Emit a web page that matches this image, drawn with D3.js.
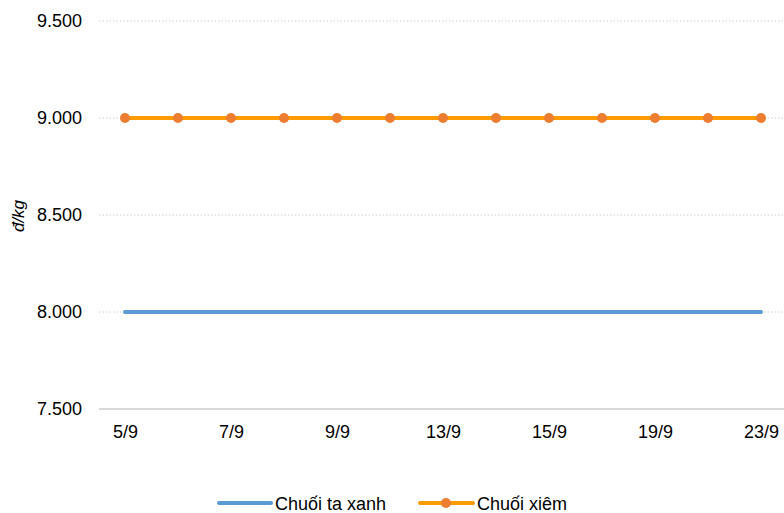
<!DOCTYPE html>
<html><head><meta charset="utf-8">
<script src="https://cdn.jsdelivr.net/npm/d3@7"></script>
<style>body{margin:0;background:#fff;font-family:"Liberation Sans",Arial,sans-serif;}</style>
</head><body><svg id="c" width="784" height="513"></svg>
<script>
const dates = ["5/9","6/9","7/9","8/9","9/9","12/9","13/9","14/9","15/9","16/9","19/9","21/9","23/9"];
const chuoiTaXanh = [8000,8000,8000,8000,8000,8000,8000,8000,8000,8000,8000,8000,8000];
const chuoiXiem = [9000,9000,9000,9000,9000,9000,9000,9000,9000,9000,9000,9000,9000];
const yTicks = [7500,8000,8500,9000,9500];
const seriesNames = ["Chuối ta xanh","Chuối xiêm"];

const svg = d3.select("#c");
const x = d3.scalePoint().domain(dates).range([98.5,787.5]).padding(0.5);
const y = d3.scaleLinear().domain([7500,9500]).range([409,21]);
const fmt = v => d3.format(",")(v).replace(/,/g,".");

// grid
svg.append("g").selectAll("line").data(yTicks.filter(d=>d>7500)).join("line")
  .attr("x1",99).attr("x2",784).attr("y1",d=>y(d)).attr("y2",d=>y(d))
  .attr("stroke","#d0d0d0").attr("stroke-width",1).attr("stroke-dasharray","1.5,2");
// y axis labels
const ya = svg.append("g").attr("transform","translate(82,0)")
  .call(d3.axisLeft(y).tickValues(yTicks).tickFormat(fmt).tickSize(0).tickPadding(0));
ya.attr("font-size",18).attr("font-family","Liberation Sans, Arial, sans-serif");
ya.select(".domain").remove();
ya.selectAll("text").attr("fill","#000");
// x axis
const xa = svg.append("g").attr("transform","translate(0,409)")
  .call(d3.axisBottom(x).tickSize(0).tickPadding(16).tickFormat((d,i)=> i%2===0 ? d : ""));
xa.attr("font-size",18).attr("font-family","Liberation Sans, Arial, sans-serif");
xa.select(".domain").attr("d","M99,0H784").attr("stroke","#d9d9d9").attr("stroke-width",2);
xa.selectAll("text").attr("fill","#000");

// y title
svg.append("text").attr("transform","translate(24,216) rotate(-90)").attr("text-anchor","middle")
  .attr("font-size",17).attr("font-style","italic").text("đ/kg");

const line = d3.line().x((d,i)=>x(dates[i])).y(d=>y(d));
svg.append("path").datum(chuoiTaXanh).attr("d",line).attr("fill","none")
  .attr("stroke","#5b9bd5").attr("stroke-width",4).attr("stroke-linecap","round");
svg.append("path").datum(chuoiXiem).attr("d",line).attr("fill","none")
  .attr("stroke","#ff9a00").attr("stroke-width",4).attr("stroke-linecap","round");
svg.append("g").selectAll("circle").data(chuoiXiem).join("circle")
  .attr("cx",(d,i)=>x(dates[i])).attr("cy",d=>y(d)).attr("r",5).attr("fill","#ed7d31");

// legend
const lg = svg.append("g").attr("font-size",18);
lg.append("line").attr("x1",219).attr("x2",271).attr("y1",503).attr("y2",503)
  .attr("stroke","#5b9bd5").attr("stroke-width",4).attr("stroke-linecap","round");
lg.append("text").attr("x",275).attr("y",510).text(seriesNames[0]);
lg.append("line").attr("x1",420).attr("x2",473).attr("y1",503).attr("y2",503)
  .attr("stroke","#ff9a00").attr("stroke-width",4).attr("stroke-linecap","round");
lg.append("circle").attr("cx",446).attr("cy",503).attr("r",5).attr("fill","#ed7d31");
lg.append("text").attr("x",477).attr("y",510).text(seriesNames[1]);
</script></body></html>
